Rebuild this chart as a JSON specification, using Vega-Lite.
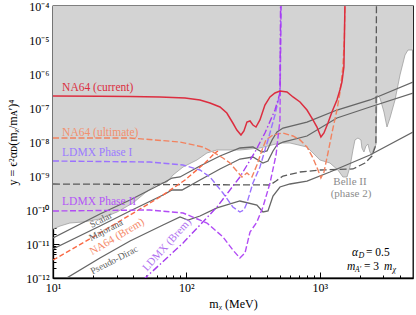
{
  "$schema": "https://vega.github.io/schema/vega-lite/v6.json",
  "width": 360,
  "height": 272,
  "autosize": {"type": "none"},
  "padding": {"left": 53, "top": 6, "right": 3, "bottom": 37},
  "config": {
    "view": {"stroke": "black", "strokeWidth": 1.3},
    "font": "Liberation Serif",
    "axis": {"domainColor": "black", "domainWidth": 1.3, "tickColor": "black", "labelColor": "black", "titleColor": "black", "grid": false, "labelFont": "Liberation Serif", "titleFont": "Liberation Serif", "labelFontSize": 12, "titleFontSize": 12, "titleFontWeight": "normal", "labelOverlap": false, "labelFlush": false, "labelBound": false}
  },
  "datasets": {
    "shade": [
      {"x": 10, "y": 2.76e-11}, {"x": 11.3, "y": 3.38e-11}, {"x": 13.4, "y": 4.15e-11}, {"x": 16.8, "y": 4.44e-11}, {"x": 22.5, "y": 5.44e-11}, {"x": 30.2, "y": 8.73e-11}, {"x": 39.8, "y": 1.61e-10}, {"x": 48.9, "y": 3.16e-10}, {"x": 60.2, "y": 5.82e-10}, {"x": 71.6, "y": 6.66e-10}, {"x": 79.4, "y": 1.07e-9}, {"x": 94.4, "y": 1.84e-9}, {"x": 120, "y": 2.96e-9}, {"x": 142.6, "y": 4.75e-9}, {"x": 169.5, "y": 5.82e-9}, {"x": 252, "y": 5.82e-9}, {"x": 356, "y": 6.66e-9}, {"x": 503, "y": 9.35e-9}, {"x": 598, "y": 9.35e-9}, {"x": 802, "y": 7.12e-9}, {"x": 889, "y": 4.75e-9}, {"x": 1003, "y": 2.96e-9}, {"x": 1192, "y": 2.41e-9}, {"x": 1368, "y": 1.5e-9}, {"x": 1491, "y": 9.35e-10}, {"x": 1599, "y": 9.35e-10}, {"x": 1684, "y": 1.84e-9}, {"x": 1773, "y": 5.82e-9}, {"x": 1836, "y": 1.15e-8}, {"x": 1933, "y": 1.31e-8}, {"x": 2036, "y": 1.15e-8}, {"x": 2071, "y": 6.66e-9}, {"x": 2144, "y": 5.08e-9}, {"x": 2219, "y": 7.63e-9}, {"x": 2297, "y": 8.73e-9}, {"x": 2378, "y": 5.08e-9}, {"x": 2461, "y": 4.15e-9}, {"x": 2547, "y": 6.66e-9}, {"x": 2637, "y": 8.17e-9}, {"x": 2683, "y": 2.41e-7}, {"x": 2826, "y": 1.97e-7}, {"x": 3029, "y": 7.63e-8}, {"x": 3191, "y": 2.76e-8}, {"x": 3359, "y": 5.08e-8}, {"x": 3664, "y": 1.72e-7}, {"x": 3994, "y": 9.35e-7}, {"x": 4356, "y": 3.62e-6}, {"x": 4586, "y": 5.08e-6}, {"x": 5000, "y": 5.08e-6}
    ],
    "scalar": [
      {"x": 10, "y": 1.5e-11}, {"x": 22.5, "y": 7.63e-11}, {"x": 37.8, "y": 1.97e-10}, {"x": 69.2, "y": 6.66e-10}, {"x": 78, "y": 8.73e-10}, {"x": 89.6, "y": 9.35e-10}, {"x": 126.5, "y": 1.97e-9}, {"x": 178.6, "y": 3.87e-9}, {"x": 252, "y": 6.66e-9}, {"x": 315.5, "y": 7.12e-9}, {"x": 369, "y": 5.08e-9}, {"x": 402, "y": 5.44e-9}, {"x": 438.5, "y": 1.15e-8}, {"x": 478, "y": 1.97e-8}, {"x": 530, "y": 2.58e-8}, {"x": 802, "y": 3.87e-8}, {"x": 1345, "y": 8.73e-8}, {"x": 2378, "y": 1.72e-7}, {"x": 5000, "y": 5.82e-7}
    ],
    "majorana": [
      {"x": 10, "y": 7.12e-12}, {"x": 22.5, "y": 3.38e-11}, {"x": 37.8, "y": 9.35e-11}, {"x": 69.2, "y": 2.96e-10}, {"x": 78, "y": 3.87e-10}, {"x": 92.7, "y": 3.87e-10}, {"x": 126.5, "y": 7.63e-10}, {"x": 178.6, "y": 1.61e-9}, {"x": 252, "y": 3.16e-9}, {"x": 315.5, "y": 3.62e-9}, {"x": 375, "y": 2.41e-9}, {"x": 409, "y": 2.76e-9}, {"x": 446, "y": 5.44e-9}, {"x": 478, "y": 8.17e-9}, {"x": 530, "y": 1.0e-8}, {"x": 802, "y": 1.5e-8}, {"x": 1345, "y": 5.08e-8}, {"x": 2378, "y": 1.07e-7}, {"x": 5000, "y": 2.76e-7}
    ],
    "pdirac": [
      {"x": 11.3, "y": 7.63e-13}, {"x": 22.5, "y": 3.87e-12}, {"x": 37.8, "y": 1.225e-11}, {"x": 66.8, "y": 3.62e-11}, {"x": 89.6, "y": 6.22e-11}, {"x": 102.8, "y": 5.08e-11}, {"x": 126.5, "y": 6.66e-11}, {"x": 169.5, "y": 1.15e-10}, {"x": 252, "y": 1.84e-10}, {"x": 338, "y": 1.4e-10}, {"x": 375, "y": 8.73e-11}, {"x": 409, "y": 9.35e-11}, {"x": 446, "y": 2.58e-10}, {"x": 503, "y": 4.75e-10}, {"x": 598, "y": 5.82e-10}, {"x": 802, "y": 7.12e-10}, {"x": 1192, "y": 1.31e-9}, {"x": 2378, "y": 4.15e-9}, {"x": 5000, "y": 1.97e-8}
    ],
    "belle": [
      {"x": 10, "y": 5.82e-10}, {"x": 423.5, "y": 5.44e-10}, {"x": 470, "y": 7.12e-10}, {"x": 530, "y": 1.0e-9}, {"x": 711, "y": 1.31e-9}, {"x": 1003, "y": 1.5e-9}, {"x": 1773, "y": 1.61e-9}, {"x": 2181, "y": 2.41e-9}, {"x": 2461, "y": 3.87e-9}, {"x": 2637, "y": 8.17e-9}, {"x": 2660, "y": 1e-4}
    ],
    "na64c": [
      {"x": 10, "y": 2.25e-7}, {"x": 22.5, "y": 2.2e-7}, {"x": 37.8, "y": 2.18e-7}, {"x": 63.4, "y": 2.11e-7}, {"x": 97.7, "y": 1.97e-7}, {"x": 126.5, "y": 1.72e-7}, {"x": 150.3, "y": 1.4e-7}, {"x": 178.6, "y": 1.07e-7}, {"x": 201, "y": 7.12e-8}, {"x": 223, "y": 3.62e-8}, {"x": 239, "y": 2.25e-8}, {"x": 256.6, "y": 1.61e-8}, {"x": 270, "y": 2.11e-8}, {"x": 284.5, "y": 3.87e-8}, {"x": 300, "y": 4.15e-8}, {"x": 315.5, "y": 3.16e-8}, {"x": 332.5, "y": 2.76e-8}, {"x": 356, "y": 4.44e-8}, {"x": 388, "y": 1.225e-7}, {"x": 423.5, "y": 2.11e-7}, {"x": 461.5, "y": 2.76e-7}, {"x": 503, "y": 3.16e-7}, {"x": 568, "y": 2.96e-7}, {"x": 630, "y": 2.11e-7}, {"x": 711, "y": 1.5e-7}, {"x": 802, "y": 8.73e-8}, {"x": 889, "y": 4.44e-8}, {"x": 953, "y": 2.76e-8}, {"x": 1020, "y": 1.4e-8}, {"x": 1075, "y": 1.84e-8}, {"x": 1152, "y": 3.62e-8}, {"x": 1234, "y": 7.63e-8}, {"x": 1345, "y": 1.72e-7}, {"x": 1416, "y": 3.38e-7}, {"x": 1466, "y": 5.82e-7}, {"x": 1517, "y": 1.61e-6}, {"x": 1530, "y": 1.225e-5}, {"x": 1544, "y": 1e-4}
    ],
    "na64u": [
      {"x": 10, "y": 1.31e-8}, {"x": 37.8, "y": 1.31e-8}, {"x": 89.6, "y": 1.0e-8}, {"x": 133, "y": 7.12e-9}, {"x": 158, "y": 5.08e-9}, {"x": 188, "y": 3.38e-9}, {"x": 212, "y": 2.41e-9}, {"x": 235, "y": 1.5e-9}, {"x": 261, "y": 9.35e-10}, {"x": 284.5, "y": 1.225e-9}, {"x": 310, "y": 9.35e-10}, {"x": 338, "y": 2.11e-9}, {"x": 369, "y": 5.82e-9}, {"x": 395, "y": 1.15e-8}, {"x": 446, "y": 1.61e-8}, {"x": 530, "y": 1.84e-8}, {"x": 630, "y": 1.5e-8}, {"x": 711, "y": 1.15e-8}, {"x": 802, "y": 7.12e-9}, {"x": 889, "y": 3.38e-9}, {"x": 970, "y": 1.5e-9}, {"x": 1020, "y": 8.73e-10}, {"x": 1075, "y": 1.31e-9}, {"x": 1152, "y": 4.75e-9}, {"x": 1234, "y": 1.84e-8}, {"x": 1345, "y": 8.73e-8}, {"x": 1416, "y": 2.76e-7}, {"x": 1491, "y": 1.61e-6}, {"x": 1530, "y": 1.225e-5}, {"x": 1544, "y": 1e-4}
    ],
    "na64b": [
      {"x": 10, "y": 3.38e-12}, {"x": 22.5, "y": 2.11e-11}, {"x": 37.8, "y": 7.12e-11}, {"x": 63.4, "y": 2.41e-10}, {"x": 97.7, "y": 7.63e-10}, {"x": 137.7, "y": 2.41e-9}, {"x": 163.7, "y": 4.75e-9}, {"x": 172.6, "y": 5.44e-9}
    ],
    "ldmx1": [
      {"x": 10, "y": 2.76e-9}, {"x": 53.3, "y": 2.58e-9}, {"x": 94.4, "y": 2.11e-9}, {"x": 126.5, "y": 1.5e-9}, {"x": 150.3, "y": 9.35e-10}, {"x": 188, "y": 3.16e-10}, {"x": 223, "y": 1.225e-10}, {"x": 252, "y": 8.73e-11}, {"x": 270, "y": 1.0e-10}, {"x": 284.5, "y": 1.61e-10}, {"x": 315.5, "y": 6.22e-10}, {"x": 356, "y": 1.84e-9}, {"x": 409, "y": 1.15e-8}, {"x": 461.5, "y": 6.22e-8}, {"x": 503, "y": 2.76e-7}, {"x": 512, "y": 1e-4}
    ],
    "ldmx2": [
      {"x": 10, "y": 9.35e-11}, {"x": 53.3, "y": 1.0e-10}, {"x": 94.4, "y": 8.17e-11}, {"x": 142.6, "y": 4.15e-11}, {"x": 188, "y": 1.61e-11}, {"x": 223, "y": 6.66e-12}, {"x": 252, "y": 3.87e-12}, {"x": 275, "y": 5.44e-12}, {"x": 300, "y": 2.25e-11}, {"x": 338, "y": 4.44e-11}, {"x": 375, "y": 1.225e-10}, {"x": 423.5, "y": 6.22e-10}, {"x": 470, "y": 4.15e-9}, {"x": 503, "y": 4.44e-8}, {"x": 512, "y": 1e-4}
    ],
    "ldmxb": [
      {"x": 47.3, "y": 8.7e-13}, {"x": 94.4, "y": 1.07e-11}, {"x": 169.5, "y": 1.225e-10}, {"x": 252, "y": 9.35e-10}, {"x": 327, "y": 5.08e-9}, {"x": 388, "y": 1.84e-8}, {"x": 461.5, "y": 8.73e-8}, {"x": 503, "y": 2.76e-7}, {"x": 508, "y": 1e-4}
    ]
  },
  "layer": [
    {
      "data": {"name": "scalar"},
      "mark": {"type": "point", "opacity": 0},
      "encoding": {
        "x": {"field": "x", "type": "quantitative", "scale": {"type": "log", "domain": [10, 5000]}, "axis": {"orient": "bottom", "values": [10, 100, 1000], "labelExpr": "'10' + ['⁰','¹','²','³','⁴'][round(log(datum.value)/LN10)]", "tickSize": -6, "labelPadding": 10, "title": "mᵪ (MeV)", "titlePadding": 5}},
        "y": {"field": "y", "type": "quantitative", "scale": {"type": "log", "domain": [1e-12, 1e-4]}, "axis": {"orient": "left", "values": [1e-12, 1e-11, 1e-10, 1e-9, 1e-8, 1e-7, 1e-6, 1e-5, 1e-4], "labelExpr": "'10⁻' + ['⁰','¹','²','³','⁴','⁵','⁶','⁷','⁸','⁹','¹⁰','¹¹','¹²'][round(-log(datum.value)/LN10)]", "tickSize": -6, "labelPadding": 10, "title": "y = ϵ²αᴅ(mᵪ/mᴀ′)⁴", "titlePadding": 6}}
      }
    },
    {
      "data": {"name": "scalar"},
      "mark": {"type": "point", "opacity": 0},
      "encoding": {
        "x": {"field": "x", "type": "quantitative", "scale": {"type": "log", "domain": [10, 5000]}, "axis": {"orient": "bottom", "values": [20, 30, 40, 50, 60, 70, 80, 90, 200, 300, 400, 500, 600, 700, 800, 900, 2000, 3000, 4000], "labels": false, "tickSize": -3, "domain": false, "title": null}},
        "y": {"field": "y", "type": "quantitative", "scale": {"type": "log", "domain": [1e-12, 1e-4]}, "axis": {"orient": "left", "values": [2e-12, 3e-12, 4e-12, 5e-12, 6e-12, 7e-12, 8e-12, 9e-12, 2e-11, 3e-11, 4e-11, 5e-11, 6e-11, 7e-11, 8e-11, 9e-11, 2e-10, 3e-10, 4e-10, 5e-10, 6e-10, 7e-10, 8e-10, 9e-10, 2e-9, 3e-9, 4e-9, 5e-9, 6e-9, 7e-9, 8e-9, 9e-9, 2e-8, 3e-8, 4e-8, 5e-8, 6e-8, 7e-8, 8e-8, 9e-8, 2e-7, 3e-7, 4e-7, 5e-7, 6e-7, 7e-7, 8e-7, 9e-7, 2e-6, 3e-6, 4e-6, 5e-6, 6e-6, 7e-6, 8e-6, 9e-6, 2e-5, 3e-5, 4e-5, 5e-5, 6e-5, 7e-5, 8e-5, 9e-5], "labels": false, "tickSize": -3, "domain": false, "title": null}}
      }
    },
    {
      "encoding": {
        "x": {"field": "x", "type": "quantitative", "scale": {"type": "log", "domain": [10, 5000]}, "axis": null},
        "y": {"field": "y", "type": "quantitative", "scale": {"type": "log", "domain": [1e-12, 1e-4]}, "axis": null}
      },
      "layer": [
        {"data": {"name": "shade"}, "mark": {"type": "area", "orient": "vertical", "color": "#d3d3d3", "clip": true}, "encoding": {"y2": {"datum": 1e-4}}},
        {"data": {"name": "shade"}, "mark": {"type": "line", "color": "#a0a0a0", "strokeWidth": 0.8, "clip": true}},
        {"data": {"name": "scalar"}, "mark": {"type": "line", "color": "#666666", "strokeWidth": 1.3, "clip": true}},
        {"data": {"name": "majorana"}, "mark": {"type": "line", "color": "#666666", "strokeWidth": 1.3, "clip": true}},
        {"data": {"name": "pdirac"}, "mark": {"type": "line", "color": "#666666", "strokeWidth": 1.3, "clip": true}},
        {"data": {"name": "belle"}, "mark": {"type": "line", "color": "#5a5a5a", "strokeWidth": 1.3, "strokeDash": [7, 3], "clip": true}},
        {"data": {"name": "na64b"}, "mark": {"type": "line", "color": "#fa6a45", "strokeWidth": 1.4, "strokeDash": [5, 2.5], "clip": true}},
        {"data": {"name": "na64u"}, "mark": {"type": "line", "color": "#f2825f", "strokeWidth": 1.4, "strokeDash": [6, 2.5], "clip": true}},
        {"data": {"name": "ldmx1"}, "mark": {"type": "line", "color": "#9b72ff", "strokeWidth": 1.4, "strokeDash": [6, 2.5], "clip": true}},
        {"data": {"name": "ldmx2"}, "mark": {"type": "line", "color": "#b24cf5", "strokeWidth": 1.4, "strokeDash": [6, 2.5], "clip": true}},
        {"data": {"name": "ldmxb"}, "mark": {"type": "line", "color": "#a63cf0", "strokeWidth": 1.4, "strokeDash": [7, 2.5, 1.5, 2.5], "clip": true}},
        {"data": {"name": "na64c"}, "mark": {"type": "line", "color": "#dc2d3f", "strokeWidth": 1.5, "clip": true}},
        {"data": {"values": [{"t": "NA64 (current)", "x": 11.7, "y": 3.8e-7}]}, "mark": {"type": "text", "align": "left", "baseline": "middle", "fontSize": 11.5, "color": "#dc2d3f"}, "encoding": {"text": {"field": "t"}}},
        {"data": {"values": [{"t": "NA64 (ultimate)", "x": 11.7, "y": 1.9e-8}]}, "mark": {"type": "text", "align": "left", "baseline": "middle", "fontSize": 11.5, "color": "#f2906f"}, "encoding": {"text": {"field": "t"}}},
        {"data": {"values": [{"t": "LDMX Phase I", "x": 11.7, "y": 4.7e-9}]}, "mark": {"type": "text", "align": "left", "baseline": "middle", "fontSize": 11.5, "color": "#9b7bff"}, "encoding": {"text": {"field": "t"}}},
        {"data": {"values": [{"t": "LDMX Phase II", "x": 11.7, "y": 1.72e-10}]}, "mark": {"type": "text", "align": "left", "baseline": "middle", "fontSize": 11.5, "color": "#b455f7"}, "encoding": {"text": {"field": "t"}}},
        {"data": {"values": [{"t": "Scalar", "x": 22.9, "y": 5.08e-11}, {"t": "Majorana", "x": 24.9, "y": 2.58e-11}, {"t": "Pseudo-Dirac", "x": 28.7, "y": 3.38e-12}]}, "mark": {"type": "text", "align": "center", "baseline": "middle", "fontSize": 9.5, "angle": -27, "color": "#606060"}, "encoding": {"text": {"field": "t"}}},
        {"data": {"values": [{"t": "NA64 (Brem)", "x": 30.2, "y": 1.61e-11}]}, "mark": {"type": "text", "align": "center", "baseline": "middle", "fontSize": 11, "angle": -31, "color": "#f58a6a"}, "encoding": {"text": {"field": "t"}}},
        {"data": {"values": [{"t": "LDMX (Brem)", "x": 71.6, "y": 9.35e-12}]}, "mark": {"type": "text", "align": "center", "baseline": "middle", "fontSize": 11, "angle": -48, "color": "#b070f0"}, "encoding": {"text": {"field": "t"}}},
        {"data": {"values": [{"t": "Belle II", "x": 1684, "y": 6.66e-10}, {"t": "(phase 2)", "x": 1714, "y": 2.96e-10}]}, "mark": {"type": "text", "align": "center", "baseline": "middle", "fontSize": 11, "color": "#8c8c8c"}, "encoding": {"text": {"field": "t"}}},
        {"data": {"values": [{"t": "α", "x": 2461, "y": 5.44e-12}]}, "mark": {"type": "text", "align": "left", "baseline": "middle", "fontSize": 11.5, "fontStyle": "italic", "dx": -20, "color": "black"}, "encoding": {"text": {"field": "t"}}},
        {"data": {"values": [{"t": "D", "x": 2461, "y": 5.44e-12}]}, "mark": {"type": "text", "align": "left", "baseline": "middle", "fontSize": 8, "fontStyle": "italic", "dx": -13.5, "dy": 3, "color": "black"}, "encoding": {"text": {"field": "t"}}},
        {"data": {"values": [{"t": "= 0.5", "x": 2461, "y": 5.44e-12}]}, "mark": {"type": "text", "align": "left", "baseline": "middle", "fontSize": 11.5, "dx": -6, "color": "black"}, "encoding": {"text": {"field": "t"}}},
        {"data": {"values": [{"t": "m", "x": 2461, "y": 2.11e-12}]}, "mark": {"type": "text", "align": "left", "baseline": "middle", "fontSize": 11.5, "fontStyle": "italic", "dx": -25, "color": "black"}, "encoding": {"text": {"field": "t"}}},
        {"data": {"values": [{"t": "A′", "x": 2461, "y": 2.11e-12}]}, "mark": {"type": "text", "align": "left", "baseline": "middle", "fontSize": 7.5, "fontStyle": "italic", "dx": -17, "dy": 3, "color": "black"}, "encoding": {"text": {"field": "t"}}},
        {"data": {"values": [{"t": "= 3", "x": 2461, "y": 2.11e-12}]}, "mark": {"type": "text", "align": "left", "baseline": "middle", "fontSize": 11.5, "dx": -8, "color": "black"}, "encoding": {"text": {"field": "t"}}},
        {"data": {"values": [{"t": "m", "x": 2461, "y": 2.11e-12}]}, "mark": {"type": "text", "align": "left", "baseline": "middle", "fontSize": 11.5, "fontStyle": "italic", "dx": 12, "color": "black"}, "encoding": {"text": {"field": "t"}}},
        {"data": {"values": [{"t": "χ", "x": 2461, "y": 2.11e-12}]}, "mark": {"type": "text", "align": "left", "baseline": "middle", "fontSize": 8, "fontStyle": "italic", "dx": 20.5, "dy": 3, "color": "black"}, "encoding": {"text": {"field": "t"}}}
      ]
    }
  ],
  "resolve": {"axis": {"x": "independent", "y": "independent"}}
}
